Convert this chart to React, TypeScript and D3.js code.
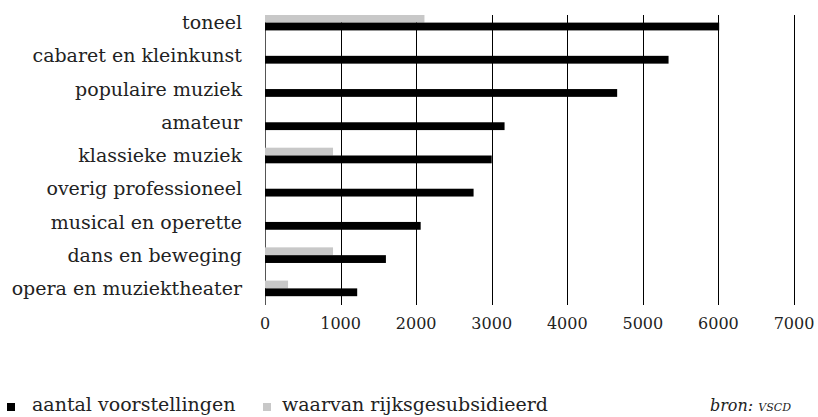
import React from "react";
import * as d3 from "d3";

const categories = [
  "toneel",
  "cabaret en kleinkunst",
  "populaire muziek",
  "amateur",
  "klassieke muziek",
  "overig professioneel",
  "musical en operette",
  "dans en beweging",
  "opera en muziektheater",
];
const totalPerformances = [6010, 5340, 4660, 3170, 3000, 2760, 2060, 1600, 1220];
const subsidized = [2110, 0, 0, 0, 900, 0, 0, 900, 305];
const xTicks = [0, 1000, 2000, 3000, 4000, 5000, 6000, 7000];
const seriesNames = ["aantal voorstellingen", "waarvan rijksgesubsidieerd"];
const sourcePrefix = "bron: ";
const sourceName = "vscd";

const W = 818;
const H = 417;
const FONT = "'DejaVu Serif', serif";
const BLACK = "#000000";
const GRAY = "#c8c8c8";

export default function App() {
  const x = d3.scaleLinear().domain([0, 7000]).range([265, 794]);
  const y = d3.scaleBand<string>().domain(categories).range([6, 305]);
  const bw = y.bandwidth();
  const groupH = bw * 0.47;
  const off = (bw - groupH) / 2;
  const sub = d3.scaleBand<string>().domain(["sub", "total"]).range([0, groupH]);
  const plotTop = 15;
  const plotBottom = y.range()[1] as number;

  return (
    <svg
      width={W}
      height={H}
      style={{ position: "absolute", left: 0, top: 0, background: "#fff" }}
      fontFamily={FONT}
    >
      {xTicks.map((t) => (
        <line
          key={"g" + t}
          x1={Math.round(x(t)) + 0.5}
          x2={Math.round(x(t)) + 0.5}
          y1={plotTop}
          y2={plotBottom}
          stroke={t === 0 ? "#555" : BLACK}
          strokeWidth={1}
        />
      ))}
      {categories.map((c, i) => {
        const y0 = (y(c) as number) + off;
        return (
          <g key={c}>
            {subsidized[i] > 0 && (
              <rect
                x={x(0)}
                y={Math.max(plotTop, y0 + (sub("sub") as number))}
                width={x(subsidized[i]) - x(0)}
                height={y0 + (sub("sub") as number) + sub.bandwidth() - Math.max(plotTop, y0 + (sub("sub") as number))}
                fill={GRAY}
              />
            )}
            <rect
              x={x(0)}
              y={y0 + (sub("total") as number)}
              width={x(totalPerformances[i]) - x(0)}
              height={sub.bandwidth()}
              fill={BLACK}
            />
            <text
              x={242}
              y={(y(c) as number) + bw / 2}
              dy="0.35em"
              textAnchor="end"
              fontSize={19}
              fill="#222"
            >
              {c}
            </text>
          </g>
        );
      })}
      {xTicks.map((t) => (
        <text
          key={"t" + t}
          x={x(t)}
          y={323}
          dy="0.35em"
          textAnchor="middle"
          fontSize={16}
          fill="#222"
        >
          {t}
        </text>
      ))}
      <rect x={7} y={403} width={8} height={8} fill={BLACK} />
      <text x={32} y={411} fontSize={19} fill="#222">
        {seriesNames[0]}
      </text>
      <rect x={263} y={403} width={8} height={8} fill={GRAY} />
      <text x={282} y={411} fontSize={19} fill="#222">
        {seriesNames[1]}
      </text>
      <text x={791} y={411} textAnchor="end" fontSize={16} fill="#222">
        <tspan fontStyle="italic">{sourcePrefix}</tspan>
        <tspan fontStyle="italic" style={{ fontVariant: "small-caps" }}>
          {sourceName}
        </tspan>
      </text>
    </svg>
  );
}
